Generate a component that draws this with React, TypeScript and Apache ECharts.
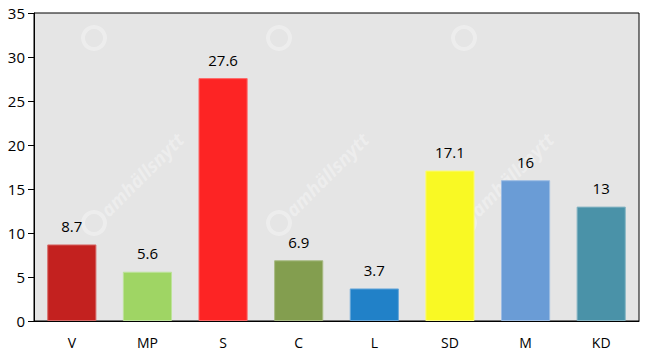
import React, { useEffect, useRef } from "react";
import * as echarts from "echarts";

const categories = ["V", "MP", "S", "C", "L", "SD", "M", "KD"];
const values = [8.7, 5.6, 27.6, 6.9, 3.7, 17.1, 16, 13];
const colors = ["#c3211f", "#9fd564", "#fd2424", "#839e4f", "#2181c8", "#f9f924", "#6a9cd6", "#4a92a8"];
const borderColors = ["#d66a68", "#bde39a", "#fd6a6a", "#a8bb84", "#6aa8da", "#fbfb7a", "#9dbde4", "#86b5c4"];
const yTicks = [0, 5, 10, 15, 20, 25, 30, 35];

const logoTop = [[94, 38], [279, 38], [464, 38]];
const logoBottom = [[94, 223], [279, 223], [464, 223]];

export default function App() {
  const ref = useRef<HTMLDivElement>(null);
  useEffect(() => {
    const chart = echarts.init(ref.current!, null, { renderer: "svg" });
    const font = "'Open Sans', 'Noto Sans', sans-serif";
    const wm = "rgba(255,255,255,0.32)";
    const logo = (x: number, y: number) => ({
      type: "ring",
      silent: true,
      z: 1,
      shape: { cx: x, cy: y, r: 13, r0: 9 },
      style: { fill: wm },
    });
    const graphics: any[] = [];
    logoTop.forEach(([x, y]) => graphics.push(logo(x, y)));
    logoBottom.forEach(([x, y]) => {
      graphics.push(logo(x, y));
      graphics.push({
        type: "text",
        x: x + 10,
        y: y - 10,
        rotation: Math.PI / 4,
        silent: true,
        z: 1,
        style: { text: "amhällsnytt", fill: wm, font: "bold italic 19px 'Open Sans', sans-serif", textVerticalAlign: "middle" },
      });
    });
    chart.setOption({
      animation: false,
      grid: { left: 34, top: 13, right: 8, bottom: 37, containLabel: false, show: true, backgroundColor: "#e5e5e5", borderColor: "#000", borderWidth: 1 },
      graphic: graphics,
      xAxis: {
        type: "category",
        data: categories,
        axisLine: { show: true, lineStyle: { color: "#000", width: 1 } },
        axisTick: { show: false },
        axisLabel: { color: "#000", fontSize: 14, fontFamily: font, margin: 14 },
        splitLine: { show: false },
      },
      yAxis: {
        type: "value",
        min: yTicks[0],
        max: yTicks[yTicks.length - 1],
        interval: 5,
        axisLine: { show: true, lineStyle: { color: "#000", width: 1 } },
        axisTick: { show: true, length: 6, lineStyle: { color: "#000" } },
        axisLabel: { color: "#000", fontSize: 15, fontFamily: font, margin: 9 },
        splitLine: { show: false },
      },
      series: [
        {
          type: "bar",
          barCategoryGap: "35%",
          z: 3,
          data: values.map((v, i) => ({
            value: v,
            itemStyle: { color: colors[i], borderColor: borderColors[i], borderWidth: 1 },
          })),
          label: { show: true, position: "top", distance: 11, color: "#000", fontSize: 15, fontFamily: font },
        },
      ],
    });
    return () => chart.dispose();
  }, []);
  return <div ref={ref} style={{ width: 647, height: 358, position: "absolute", left: 0, top: 0 }} />;
}
